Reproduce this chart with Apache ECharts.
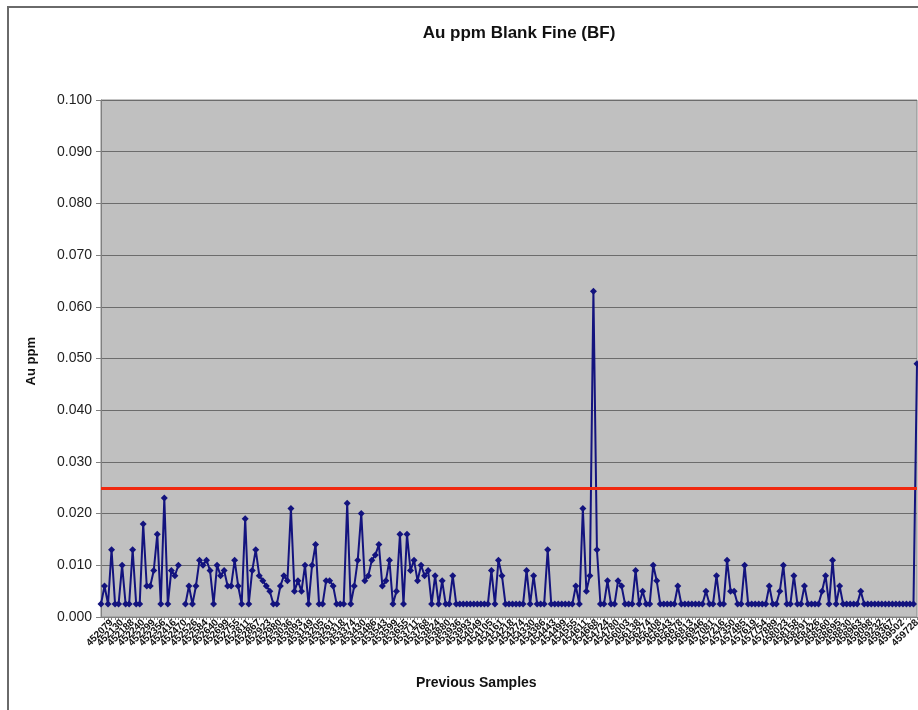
<!DOCTYPE html>
<html>
<head>
<meta charset="utf-8">
<script src="https://cdn.jsdelivr.net/npm/echarts@6/dist/echarts.min.js"></script>
<style>
html,body{margin:0;padding:0;background:#fff;}
#frame{position:absolute;left:7px;top:6px;width:1000px;height:1000px;border-left:2px solid #6a6a6a;border-top:2px solid #6a6a6a;}
#chart{position:absolute;left:0;top:0;width:918px;height:710px;}
</style>
</head>
<body>
<div id="frame"></div>
<div id="chart"></div>
<script>
var chartTitle = "Au ppm Blank Fine (BF)";
var yAxisTitle = "Au ppm";
var xAxisTitle = "Previous Samples";
var limitValue = 0.025;
var yTicks = [0.000,0.010,0.020,0.030,0.040,0.050,0.060,0.070,0.080,0.090,0.100];

var sampleIds = [
"452023","452041","452058","452079","452096","452112","452130","452149","452170","452188",
"452205","452223","452240","452262","452281","452299","452316","452338","452356","452375",
"452393","452416","452434","452451","452470","452489","452507","452526","452545","452566",
"452584","452603","452621","452640","452659","452677","452699","452718","452736","452755",
"452773","452792","452811","452830","452848","452867","452886","452905","452923","452942",
"452961","452980","452999","453018","453036","453055","453074","453093","453111","453130",
"453149","453168","453186","453205","453224","453243","453261","453280","453299","453318",
"453336","453355","453374","453393","453411","453430","453449","453468","453486","453505",
"453524","453543","453561","453580","453599","453618","453636","453655","453674","453693",
"453711","453730","453749","453768","453786","453805","453824","453843","453861","453880",
"453899","453918","453936","453955","453974","453993","454011","454030","454049","454068",
"454086","454105","454124","454143","454161","454180","454199","454218","454236","454255",
"454274","454293","454311","454330","454349","454368","454386","454405","454424","454443",
"454461","454480","454499","454518","454536","454555","454574","454593","454611","454630",
"454649","454668","454686","454705","454724","454743","454761","454780","454799","454818",
"456003","456047","456092","456138","456183","456227","456274","456319","456363","456408",
"456452","456498","456543","456587","456632","456678","456722","456767","456813","456857",
"456902","456946","456991","457037","457081","457126","457172","457216","457261","457305",
"457350","457396","457441","457485","457530","457574","457619","457665","457709","457754",
"457798","457843","457889","457934","457978","458023","458067","458112","458158","458202",
"458247","458291","458336","458382","458426","458471","458515","458560","458606","458650",
"458695","458739","458784","458830","458874","458919","458963","459008","459054","459098",
"459143","459187","459232","459278","459322","459367","459411","459456","459502","459546",
"459591","459637","459728"
];

var auPpm = [
0.0025,0.006,0.0025,0.013,0.0025,0.0025,0.010,0.0025,0.0025,0.013,
0.0025,0.0025,0.018,0.006,0.006,0.009,0.016,0.0025,0.023,0.0025,
0.009,0.008,0.010,null,0.0025,0.006,0.0025,0.006,0.011,0.010,
0.011,0.009,0.0025,0.010,0.008,0.009,0.006,0.006,0.011,0.006,
0.0025,0.019,0.0025,0.009,0.013,0.008,0.007,0.006,0.005,0.0025,
0.0025,0.006,0.008,0.007,0.021,0.005,0.007,0.005,0.010,0.0025,
0.010,0.014,0.0025,0.0025,0.007,0.007,0.006,0.0025,0.0025,0.0025,
0.022,0.0025,0.006,0.011,0.020,0.007,0.008,0.011,0.012,0.014,
0.006,0.007,0.011,0.0025,0.005,0.016,0.0025,0.016,0.009,0.011,
0.007,0.010,0.008,0.009,0.0025,0.008,0.0025,0.007,0.0025,0.0025,
0.008,0.0025,0.0025,0.0025,0.0025,0.0025,0.0025,0.0025,0.0025,0.0025,
0.0025,0.009,0.0025,0.011,0.008,0.0025,0.0025,0.0025,0.0025,0.0025,
0.0025,0.009,0.0025,0.008,0.0025,0.0025,0.0025,0.013,0.0025,0.0025,
0.0025,0.0025,0.0025,0.0025,0.0025,0.006,0.0025,0.021,0.005,0.008,
0.063,0.013,0.0025,0.0025,0.007,0.0025,0.0025,0.007,0.006,0.0025,
0.0025,0.0025,0.009,0.0025,0.005,0.0025,0.0025,0.010,0.007,0.0025,
0.0025,0.0025,0.0025,0.0025,0.006,0.0025,0.0025,0.0025,0.0025,0.0025,
0.0025,0.0025,0.005,0.0025,0.0025,0.008,0.0025,0.0025,0.011,0.005,
0.005,0.0025,0.0025,0.010,0.0025,0.0025,0.0025,0.0025,0.0025,0.0025,
0.006,0.0025,0.0025,0.005,0.010,0.0025,0.0025,0.008,0.0025,0.0025,
0.006,0.0025,0.0025,0.0025,0.0025,0.005,0.008,0.0025,0.011,0.0025,
0.006,0.0025,0.0025,0.0025,0.0025,0.0025,0.005,0.0025,0.0025,0.0025,
0.0025,0.0025,0.0025,0.0025,0.0025,0.0025,0.0025,0.0025,0.0025,0.0025,
0.0025,0.0025,0.049
];

var FONT = 'Arial, "Liberation Sans", sans-serif';
var chart = echarts.init(document.getElementById('chart'), null, {renderer: 'canvas'});
var lastIdx = sampleIds.length - 1;
chart.setOption({
  animation: false,
  backgroundColor: 'transparent',
  title: {
    text: chartTitle,
    left: 514, top: 20, textAlign: 'center',
    textStyle: {fontFamily: FONT, fontSize: 17, fontWeight: 'bold', color: '#111'}
  },
  graphic: [
    {type: 'text', left: 25, top: 337, rotation: Math.PI / 2,
     style: {text: yAxisTitle, font: 'bold 13px ' + FONT, fill: '#111'}},
    {type: 'text', left: 416, top: 676,
     style: {text: xAxisTitle, font: 'bold 14px ' + FONT, fill: '#111'}}
  ],
  grid: {
    left: 101, right: 1, top: 100, bottom: 93,
    outerBoundsMode: 'none', containLabel: false,
    show: true, backgroundColor: '#c0c0c0', borderColor: '#8a8a8a', borderWidth: 1
  },
  xAxis: {
    type: 'category',
    data: sampleIds,
    boundaryGap: false,
    axisLine: {lineStyle: {color: '#808080', width: 1}},
    axisTick: {show: true, interval: 0, length: 3, lineStyle: {color: '#808080'}},
    axisLabel: {
      rotate: 45, fontFamily: FONT, fontSize: 10, fontWeight: 'bold', color: '#111', margin: 4,
      showMaxLabel: true, hideOverlap: false,
      interval: function (i) { return i % 3 === 0 || i === lastIdx; }
    },
    splitLine: {show: false}
  },
  yAxis: {
    type: 'value',
    min: 0, max: 0.1, interval: 0.01,
    axisLine: {show: true, lineStyle: {color: '#808080', width: 1}},
    axisTick: {show: true, inside: false, length: 5, lineStyle: {color: '#808080'}},
    axisLabel: {
      fontFamily: FONT, fontSize: 14, color: '#222', margin: 9,
      formatter: function (v) { return v.toFixed(3); }
    },
    splitLine: {show: true, lineStyle: {color: '#6c6c6c', width: 1}}
  },
  series: [{
    type: 'line',
    data: auPpm,
    symbol: 'diamond',
    symbolSize: 7,
    showAllSymbol: true,
    connectNulls: false,
    lineStyle: {color: '#13137e', width: 2},
    itemStyle: {color: '#13137e'},
    markLine: {
      silent: true,
      precision: 4,
      symbol: ['none', 'none'],
      label: {show: false},
      lineStyle: {color: '#f0280f', width: 3, type: 'solid'},
      data: [{yAxis: limitValue}]
    },
    z: 3
  }]
});
</script>
</body>
</html>
